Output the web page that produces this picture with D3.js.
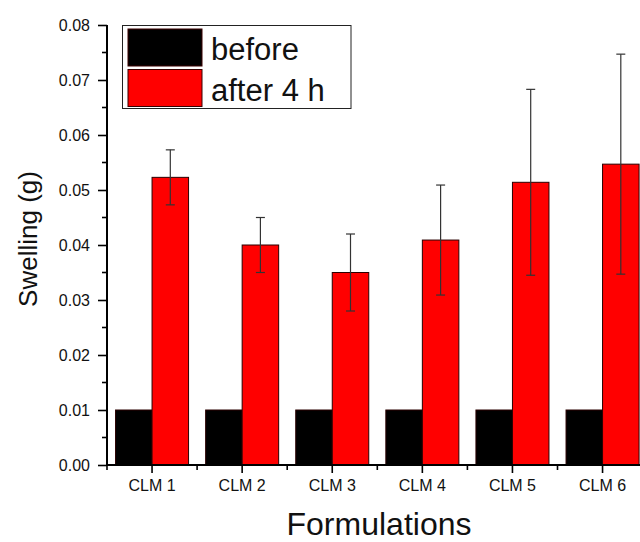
<!DOCTYPE html>
<html>
<head>
<meta charset="utf-8">
<script src="https://cdn.jsdelivr.net/npm/d3@7"></script>
<style>
  html, body { margin: 0; padding: 0; background: #fff; }
  svg { display: block; font-family: "Liberation Sans", Arial, sans-serif; }
</style>
</head>
<body>
<svg id="chart" width="640" height="542"></svg>
<script>
// Swelling of each formulation before and after 4 h
const categories = ["CLM 1", "CLM 2", "CLM 3", "CLM 4", "CLM 5", "CLM 6"];
const seriesNames = ["before", "after 4 h"];
const beforeValues = [0.010, 0.010, 0.010, 0.010, 0.010, 0.010];
const afterValues = [0.0523, 0.0400, 0.0350, 0.0409, 0.0514, 0.0547];
const afterErrors = [0.0050, 0.0050, 0.0070, 0.0100, 0.0169, 0.0200];
const yTicks = [0.00, 0.01, 0.02, 0.03, 0.04, 0.05, 0.06, 0.07, 0.08];
const seriesColors = ["#000000", "#ff0000"];

const svg = d3.select("#chart");

const plotLeft = 107, plotBottom = 465, plotTop = 25;
const x0 = d3.scaleBand().domain(categories).range([plotLeft, 647.6]).padding(0);
const x1 = d3.scaleBand().domain(seriesNames).range([0, x0.bandwidth()])
  .paddingInner(0).paddingOuter(0.234);
const y = d3.scaleLinear().domain([0, 0.08]).range([plotBottom, plotTop]);

const rows = categories.map((c, i) => ({
  cat: c,
  values: [
    { s: seriesNames[0], v: beforeValues[i], e: null },
    { s: seriesNames[1], v: afterValues[i], e: afterErrors[i] }
  ]
}));

// bars
const groups = svg.append("g").selectAll("g").data(rows).join("g")
  .attr("transform", d => `translate(${x0(d.cat)},0)`);

groups.selectAll("rect").data(d => d.values).join("rect")
  .attr("x", d => x1(d.s))
  .attr("y", d => y(d.v))
  .attr("width", x1.bandwidth())
  .attr("height", d => y(0) - y(d.v))
  .attr("fill", (d, i) => seriesColors[i])
  .attr("stroke", "#2a0000")
  .attr("stroke-width", 1);

// error bars
const errG = groups.selectAll("g.err").data(d => d.values.filter(v => v.e != null)).join("g")
  .attr("class", "err")
  .attr("stroke", "#333")
  .attr("stroke-width", 1.2);
errG.append("line")
  .attr("x1", d => x1(d.s) + x1.bandwidth() / 2)
  .attr("x2", d => x1(d.s) + x1.bandwidth() / 2)
  .attr("y1", d => y(d.v + d.e))
  .attr("y2", d => y(d.v - d.e));
[1, -1].forEach(sign => {
  errG.append("line")
    .attr("x1", d => x1(d.s) + x1.bandwidth() / 2 - 4.5)
    .attr("x2", d => x1(d.s) + x1.bandwidth() / 2 + 4.5)
    .attr("y1", d => y(d.v + sign * d.e))
    .attr("y2", d => y(d.v + sign * d.e));
});

// y axis
const yAxis = svg.append("g").attr("transform", `translate(${plotLeft},0)`)
  .call(d3.axisLeft(y).tickValues(yTicks).tickFormat(d3.format(".2f")).tickSize(9).tickPadding(8));
yAxis.select(".domain").attr("stroke-width", 2).attr("d", `M0,${plotBottom + 1}V${plotTop}`);
yAxis.selectAll(".tick line").attr("stroke-width", 1.6);
yAxis.selectAll("text").attr("font-size", 16).attr("fill", "#111");
const yMinor = d3.range(0.005, 0.08, 0.01);
svg.append("g").selectAll("line").data(yMinor).join("line")
  .attr("x1", plotLeft - 5).attr("x2", plotLeft)
  .attr("y1", d => y(d)).attr("y2", d => y(d))
  .attr("stroke", "#000").attr("stroke-width", 1.6);

// x axis
const xAxis = svg.append("g").attr("transform", `translate(0,${plotBottom})`)
  .call(d3.axisBottom(x0).tickSize(8).tickPadding(7));
xAxis.select(".domain").attr("stroke-width", 2).attr("d", `M${plotLeft - 1},0H640`);
xAxis.selectAll(".tick line").attr("stroke-width", 1.6);
xAxis.selectAll("text").attr("font-size", 16).attr("fill", "#111");
svg.append("g").selectAll("line").data(categories).join("line")
  .attr("x1", d => x0(d)).attr("x2", d => x0(d))
  .attr("y1", plotBottom).attr("y2", plotBottom + 5)
  .attr("stroke", "#000").attr("stroke-width", 1.6);

// axis titles
svg.append("text")
  .attr("transform", "translate(37,239) rotate(-90)")
  .attr("text-anchor", "middle")
  .attr("font-size", 26)
  .attr("fill", "#111")
  .text("Swelling (g)");
svg.append("text")
  .attr("x", 379).attr("y", 535)
  .attr("text-anchor", "middle")
  .attr("font-size", 32)
  .attr("fill", "#111")
  .text("Formulations");

// legend
const legend = svg.append("g");
legend.append("rect")
  .attr("x", 122.5).attr("y", 25.5).attr("width", 228.5).attr("height", 83)
  .attr("fill", "#fff").attr("stroke", "#222").attr("stroke-width", 1);
const items = legend.selectAll("g.item").data(seriesNames).join("g")
  .attr("class", "item")
  .attr("transform", (d, i) => `translate(0,${29 + i * 40.5})`);
items.append("rect")
  .attr("x", 128).attr("y", 0).attr("width", 74).attr("height", 37)
  .attr("fill", (d, i) => seriesColors[i])
  .attr("stroke", "#3a0000").attr("stroke-width", 1);
items.append("text")
  .attr("x", 211).attr("y", 31)
  .attr("font-size", 31)
  .attr("fill", "#111")
  .text(d => d);
</script>
</body>
</html>
